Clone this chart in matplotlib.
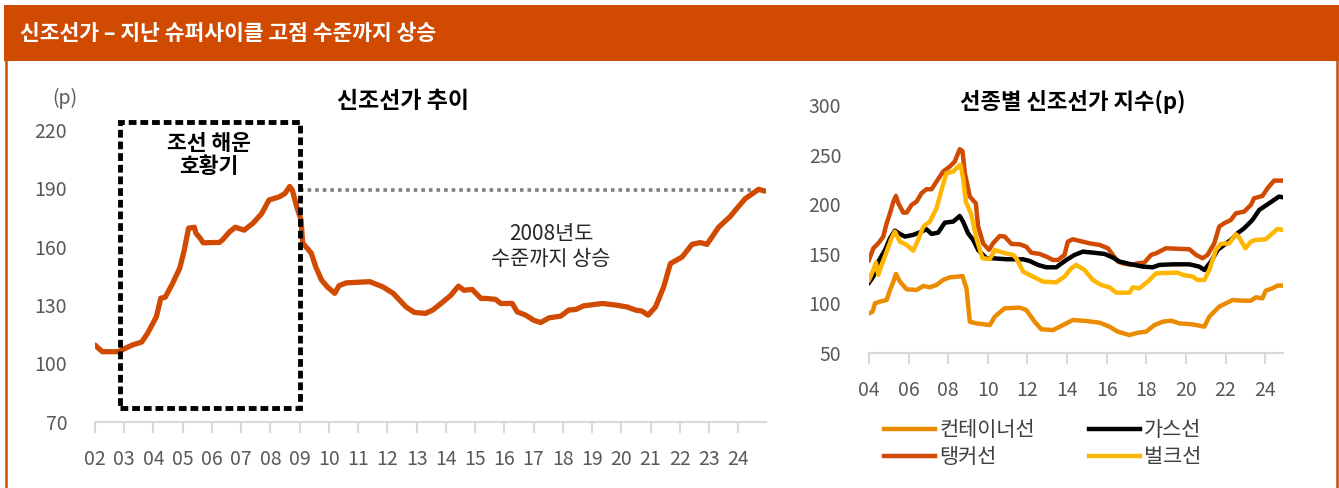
import matplotlib.pyplot as plt
from matplotlib.patches import Rectangle
from matplotlib.lines import Line2D

plt.rcParams['font.family'] = ['Noto Sans CJK KR', 'DejaVu Sans']

# 신조선가 추이 (p)
years_left = [2002.0, 2002.25, 2002.8, 2003.27, 2003.6, 2003.8, 2004.1, 2004.25, 2004.4, 2004.65,
              2004.9, 2005.05, 2005.2, 2005.4, 2005.45, 2005.6, 2005.7, 2006.25, 2006.35, 2006.6,
              2006.8, 2007.1, 2007.4, 2007.7, 2007.95, 2008.3, 2008.5, 2008.66, 2008.75, 2008.9,
              2009.05, 2009.1, 2009.4, 2009.55, 2009.75, 2009.95, 2010.2, 2010.35, 2010.6, 2011.4,
              2011.85, 2012.2, 2012.64, 2012.92, 2013.3, 2013.55, 2013.9, 2014.17, 2014.43, 2014.62,
              2014.9, 2015.2, 2015.37, 2015.7, 2015.88, 2016.27, 2016.44, 2016.73, 2017.0, 2017.24,
              2017.53, 2017.93, 2018.2, 2018.44, 2018.72, 2019.35, 2019.8, 2020.2, 2020.49, 2020.7,
              2020.92, 2021.17, 2021.45, 2021.68, 2022.08, 2022.42, 2022.7, 2022.93, 2023.33, 2023.73,
              2023.95, 2024.24, 2024.7, 2024.9]
price_left = [109.4, 106, 106, 109.4, 111, 115.5, 124, 133.5, 134, 141,
              149, 158, 169.5, 170, 167, 164.3, 162, 162.2, 163.3, 167.6,
              170, 168.5, 172, 177, 184, 185.6, 187.4, 191, 189, 180.5,
              173.6, 162, 156.6, 149.6, 142.8, 139.3, 136, 140, 141.4, 142,
              139.3, 136, 129, 126.2, 125.7, 127.4, 131.6, 135, 139.7, 137.6,
              138, 133.4, 133.4, 132.9, 130.8, 130.8, 126.5, 124.8, 122.2, 121,
              123.4, 124.3, 127.4, 127.7, 129.6, 130.8, 130, 129, 127.4, 126.9,
              124.8, 129, 139.3, 151.3, 154.7, 161.2, 162.1, 161.2, 170, 175.6,
              179.6, 184.7, 189.5, 188.6]
left_xticks = list(range(2002, 2025))
left_xlabels = ['%02d' % (y % 100) for y in left_xticks]
left_yticks = [70, 100, 130, 160, 190, 220]
peak_2008 = 189

# 선종별 신조선가 지수 (p)
years_tanker = [2004.0, 2004.22, 2004.47, 2004.72, 2004.89, 2005.06, 2005.23, 2005.36, 2005.48, 2005.73,
                2005.9, 2006.15, 2006.4, 2006.65, 2006.9, 2007.16, 2007.41, 2007.74, 2008.08, 2008.33,
                2008.58, 2008.72, 2008.84, 2009.09, 2009.39, 2009.51, 2009.76, 2010.06, 2010.26, 2010.6,
                2010.85, 2011.19, 2011.61, 2011.94, 2012.19, 2012.61, 2012.95, 2013.29, 2013.54, 2013.87,
                2014.04, 2014.29, 2014.63, 2015.13, 2015.64, 2016.06, 2016.31, 2016.56, 2016.81, 2017.23,
                2017.57, 2017.9, 2018.24, 2018.49, 2018.99, 2020.17, 2020.51, 2020.84, 2021.09, 2021.43,
                2021.68, 2021.93, 2022.27, 2022.52, 2022.94, 2023.28, 2023.44, 2023.86, 2024.12, 2024.45,
                2024.87]
tanker = [143.6, 155.4, 160.4, 167.2, 180.6, 190.7, 202.5, 208.2, 200.8, 191.4,
          191.4, 199.2, 202.5, 210.9, 215, 215, 222.7, 232.8, 237.9, 242.9,
          255.4, 253.4, 231.1, 207.6, 200.8, 177.3, 160.4, 153.7, 160.4, 167.8,
          167.2, 159.8, 159.4, 157, 151, 149.7, 147, 143.6, 143.6, 148.7,
          162.1, 164.5, 162.8, 160.4, 158.8, 155.4, 148.7, 142, 140.2, 138.6,
          140.2, 140.9, 148.7, 150.3, 155.4, 154.4, 148.7, 145.3, 148.7, 160.4,
          177.3, 180.6, 184, 190.7, 192.4, 199.2, 205.9, 208.2, 216, 223.7,
          223.7]

years_gas = [2004.0, 2004.22, 2004.47, 2004.81, 2005.06, 2005.31, 2005.56, 2005.81, 2006.23, 2006.65,
             2006.9, 2007.16, 2007.49, 2007.83, 2008.25, 2008.58, 2008.75, 2009.0, 2009.26, 2009.51,
             2009.93, 2010.26, 2010.94, 2011.78, 2012.11, 2012.53, 2012.95, 2013.45, 2013.96, 2014.38,
             2014.8, 2015.3, 2015.89, 2016.31, 2016.65, 2017.15, 2017.82, 2018.32, 2018.66, 2019.33,
             2020.17, 2020.67, 2020.93, 2021.26, 2021.6, 2021.93, 2022.27, 2022.6, 2022.94, 2023.36,
             2023.7, 2024.2, 2024.7, 2024.87]
gas = [120.7, 126.8, 141.9, 153.7, 165.5, 173.2, 169.9, 167.2, 168.9, 172.2,
       174.6, 169.9, 171.2, 181.3, 182.3, 188, 182.3, 170.5, 163.8, 153.7,
       145.3, 145.3, 144.3, 144.3, 142.6, 138.6, 136.2, 136.2, 143.6, 148.7,
       152, 151, 149.7, 146, 142, 139.6, 136.9, 136.2, 138.6, 139.2,
       139.2, 136.9, 133.5, 141.9, 153.7, 158.8, 163.8, 170.5, 175.6, 184,
       194.1, 200.8, 207.6, 206.9]

years_bulk = [2004.0, 2004.22, 2004.35, 2004.47, 2004.64, 2004.89, 2005.14, 2005.31, 2005.56, 2005.9,
              2006.23, 2006.48, 2006.74, 2007.07, 2007.41, 2007.66, 2007.91, 2008.25, 2008.5, 2008.62,
              2008.75, 2008.89, 2009.17, 2009.42, 2009.73, 2010.1, 2010.35, 2010.77, 2011.27, 2011.44,
              2011.78, 2012.28, 2012.78, 2013.45, 2013.87, 2014.21, 2014.46, 2014.88, 2015.3, 2015.72,
              2016.14, 2016.48, 2017.15, 2017.32, 2017.65, 2018.07, 2018.49, 2019.58, 2019.84, 2020.34,
              2020.59, 2020.93, 2021.18, 2021.51, 2021.76, 2022.18, 2022.52, 2022.66, 2023.0, 2023.28,
              2023.53, 2024.03, 2024.37, 2024.62, 2024.87]
bulk = [123.4, 133.5, 140.9, 128.5, 138.6, 152, 165.5, 172.2, 162.1, 158.8,
        153, 163.8, 177.3, 182.3, 195.8, 214.3, 231.1, 232.8, 237.9, 239.6,
        226.1, 202.5, 189.1, 165.5, 145.3, 144.6, 153.7, 151, 148.7, 145.3,
        131.8, 126.8, 121.7, 121, 126.8, 135.2, 138.6, 133.5, 123.4, 118.4,
        116, 110.6, 110.6, 116, 115, 121.7, 130.1, 130.8, 128.5, 126.8,
        123.4, 123.4, 133.5, 153.7, 159.8, 160.4, 169.5, 167.2, 155.4, 162.1,
        163.8, 164.5, 170.5, 174.9, 173.9]

years_container = [2004.0, 2004.18, 2004.3, 2004.55, 2004.89, 2005.06, 2005.23, 2005.36, 2005.56, 2005.9,
                   2006.4, 2006.74, 2007.07, 2007.41, 2007.74, 2008.08, 2008.5, 2008.72, 2008.92, 2009.09,
                   2009.42, 2010.1, 2010.35, 2010.85, 2011.61, 2011.94, 2012.36, 2012.7, 2013.29, 2013.96,
                   2014.29, 2014.97, 2015.64, 2016.14, 2016.56, 2017.15, 2017.57, 2017.99, 2018.41, 2018.83,
                   2019.25, 2019.67, 2020.34, 2020.93, 2021.18, 2021.68, 2022.36, 2022.86, 2023.28, 2023.53,
                   2023.86, 2024.03, 2024.37, 2024.62, 2024.87]
container = [89.7, 91.4, 99.8, 101.5, 103.2, 113.3, 121.7, 129.5, 121.7, 114,
             113.3, 117.3, 116, 118.4, 123.4, 126.1, 126.8, 127.4, 115, 81.3,
             79.6, 77.9, 86.4, 94.8, 95.5, 93.1, 81.3, 73.6, 72.9, 79.6,
             83, 82, 80.3, 76.3, 71.2, 67.8, 70.2, 71.2, 77.9, 81.3,
             82.3, 79.6, 78.6, 76.3, 86.4, 96.5, 103.2, 102.5, 102.5, 105.9,
             104.9, 112.6, 115, 117.7, 117.7]
right_xticks = list(range(2004, 2025, 2))
right_xlabels = ['%02d' % (y % 100) for y in right_xticks]
right_yticks = [50, 100, 150, 200, 250, 300]

ORANGE = '#D04A02'
TEXT_GRAY = '#595959'
AXIS_GRAY = '#D9D9D9'

fig = plt.figure(figsize=(13.39, 4.88), dpi=100)

# 상단 제목 띠
fig.patches.append(Rectangle((4 / 1339, 1 - 61 / 488), 1 - 4 / 1339, 56 / 488,
                             transform=fig.transFigure, facecolor=ORANGE, edgecolor='none'))
fig.text(20 / 1339, 1 - 33 / 488, '신조선가 – 지난 슈퍼사이클 고점 수준까지 상승',
         color='white', fontsize=15.5, fontweight='bold', va='center', ha='left')
fig.add_artist(Line2D([6.5 / 1339, 6.5 / 1339], [0, 1 - 61 / 488], color=ORANGE, lw=1.8))
fig.add_artist(Line2D([1336.5 / 1339, 1336.5 / 1339], [0, 1 - 61 / 488], color=ORANGE, lw=1.8))


def style_axis(ax):
    for s in ['top', 'right', 'left']:
        ax.spines[s].set_visible(False)
    ax.spines['bottom'].set_color(AXIS_GRAY)
    ax.spines['bottom'].set_linewidth(1.5)
    ax.tick_params(axis='x', colors=AXIS_GRAY, length=8, width=1.5, labelcolor=TEXT_GRAY,
                   labelsize=14, pad=12)
    ax.tick_params(axis='y', length=0, labelcolor=TEXT_GRAY, labelsize=14, pad=20)


# 왼쪽: 신조선가 추이
ax1 = fig.add_axes([95 / 1339, 66.3 / 488, 671 / 1339, 291.7 / 488])
ax1.plot(years_left, price_left, color=ORANGE, lw=3.8, solid_capstyle='round', zorder=3)
ax1.plot([2009.0, 2024.9], [peak_2008, peak_2008], color='#7F7F7F', lw=2.6,
         linestyle=(0, (1, 1.1)), zorder=2)
ax1.add_patch(Rectangle((2002.85, 77), 6.15, 147, fill=False, edgecolor='black', lw=3.5,
                        linestyle=(0, (1.6, 0.8)), clip_on=False, zorder=4))
ax1.text(2005.9, 207, '조선 해운\n호황기', ha='center', va='center', fontsize=15.5,
         fontweight='bold', linespacing=1.1)
ax1.text(2017.6, 160, '2008년도\n수준까지 상승', ha='center', va='center', fontsize=15,
         color='#262626', linespacing=1.2)
ax1.set_xlim(2002, 2024.95)
ax1.set_ylim(70, 220)
ax1.set_xticks(left_xticks)
ax1.set_xticklabels(left_xlabels)
ax1.set_yticks(left_yticks)
style_axis(ax1)
fig.text(65 / 1339, 1 - 98 / 488, '(p)', ha='center', va='center', fontsize=14, color=TEXT_GRAY)
fig.text(403 / 1339, 1 - 101 / 488, '신조선가 추이', ha='center', va='center', fontsize=16.5,
         fontweight='bold')

# 오른쪽: 선종별 신조선가 지수
ax2 = fig.add_axes([869 / 1339, 135.3 / 488, 414 / 1339, 247.7 / 488])
ax2.plot(years_container, container, color='#EB8C00', lw=3.2, label='컨테이너선')
ax2.plot(years_tanker, tanker, color=ORANGE, lw=3.2, label='탱커선')
ax2.plot(years_gas, gas, color='black', lw=3.2, label='가스선')
ax2.plot(years_bulk, bulk, color='#FFB600', lw=3.2, label='벌크선')
ax2.set_xlim(2004, 2024.9)
ax2.set_ylim(50, 300)
ax2.set_xticks(right_xticks)
ax2.set_xticklabels(right_xlabels)
ax2.set_yticks(right_yticks)
style_axis(ax2)
fig.text(1073 / 1339, 1 - 102 / 488, '선종별 신조선가 지수(p)', ha='center', va='center',
         fontsize=16, fontweight='bold')

handles, labels = ax2.get_legend_handles_labels()
leg = fig.legend(handles, labels, ncol=2, loc='upper left',
                 bbox_to_anchor=(884 / 1339, 1 - 419 / 488), frameon=False,
                 fontsize=15, handlelength=2.45, handletextpad=0.2, columnspacing=2.6,
                 labelspacing=0.25, borderaxespad=0, borderpad=0)
for t in leg.get_texts():
    t.set_color('#404040')

fig.savefig('out.png', dpi=100)
